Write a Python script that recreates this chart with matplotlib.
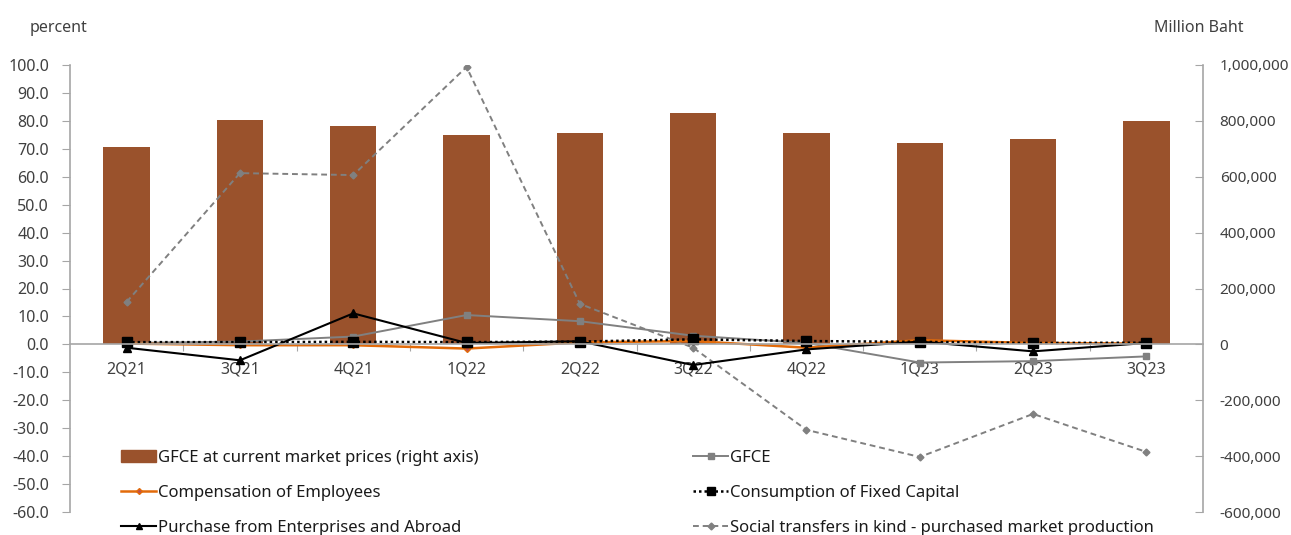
import matplotlib
matplotlib.use("Agg")
import matplotlib.pyplot as plt
from matplotlib.lines import Line2D
from matplotlib.patches import Patch
import numpy as np

plt.rcParams['font.family'] = ['Noto Sans', 'DejaVu Sans']

quarters = ["2Q21", "3Q21", "4Q21", "1Q22", "2Q22", "3Q22", "4Q22", "1Q23", "2Q23", "3Q23"]

# GFCE at current market prices, million baht (right axis)
gfce_level = [706000, 803000, 782000, 750000, 757000, 828000, 757000, 721000, 735000, 800000]

# growth rates, percent (left axis)
gfce = [0.5, 1.0, 2.8, 10.5, 8.3, 3.1, 0.5, -6.5, -6.0, -4.3]
compensation = [0.3, -0.3, -0.3, -1.5, 0.7, 1.2, -1.2, 1.5, 0.5, 0.3]
fixed_capital = [0.8, 0.8, 0.9, 0.8, 1.0, 1.8, 1.2, 0.9, 0.5, 0.6]
purchase = [-1.2, -5.7, 11.1, 0.5, 1.1, -7.4, -1.8, 1.0, -2.5, 0.5]
social_transfers = [15.2, 61.3, 60.6, 99.3, 14.5, -1.2, -30.6, -40.3, -24.9, -38.5]

left_ticks = np.arange(-60, 101, 10)
right_ticks = np.arange(-600000, 1000001, 200000)

BAR = "#9A522C"
ORANGE = "#E26B0A"
GRAY = "#808080"
AXIS = "#A6A6A6"
TXT = "#404040"

fig = plt.figure(figsize=(12.91, 5.35), dpi=100)
ax = fig.add_axes([70/1291, 23/535, 1133/1291, 447/535])
ax2 = ax.twinx()

x = np.arange(len(quarters))

ax2.bar(x, gfce_level, width=0.41, color=BAR, zorder=2)
ax2.set_ylim(-600000, 1000000)
ax2.set_yticks(right_ticks)
ax2.set_yticklabels([f"{v:,.0f}" for v in right_ticks])

ax.set_zorder(ax2.get_zorder() + 1)
ax.patch.set_visible(False)

ax.plot(x, social_transfers, color=GRAY, ls=(0, (3, 2)), lw=1.4, marker="D", ms=3.5, mfc=GRAY, mec=GRAY)
ax.plot(x, gfce, color=GRAY, lw=1.4, marker="s", ms=5, mfc=GRAY, mec=GRAY)
ax.plot(x, compensation, color=ORANGE, lw=1.8, marker="D", ms=3, mfc="#C0504D", mec=ORANGE)
ax.plot(x, fixed_capital, color="black", ls=(0, (1, 1.2)), lw=1.8, marker="s", ms=6.5, mfc="black", mec="black")
ax.plot(x, purchase, color="black", lw=1.5, marker="^", ms=5.5, mfc="black", mec="black")

ax.set_xlim(-0.5, len(quarters) - 0.5)
ax.set_ylim(-60, 100)
ax.set_yticks(left_ticks)
ax.set_yticklabels([f"{v:.1f}" for v in left_ticks])

# category boundaries as tick marks, labels centred on categories
ax.set_xticks(np.arange(0.5, len(quarters) - 0.5, 1))
ax.set_xticklabels([])
ax.set_xticks(x, minor=True)
ax.set_xticklabels(quarters, minor=True)
ax.tick_params(axis="x", which="major", direction="out", length=5, color=AXIS)
ax.tick_params(axis="x", which="minor", length=0, pad=12, labelsize=11.5, labelcolor=TXT)
ax.spines["bottom"].set_position(("data", 0))

for a in (ax, ax2):
    a.spines["top"].set_visible(False)
    for s in ("left", "right", "bottom"):
        a.spines[s].set_color(AXIS)
        a.spines[s].set_linewidth(1.2)
ax.spines["right"].set_visible(False)
ax2.spines["left"].set_visible(False)
ax2.spines["bottom"].set_visible(False)

ax.tick_params(axis="y", direction="out", length=6, color=AXIS, labelsize=11.5, labelcolor=TXT, pad=9)
ax2.tick_params(axis="y", direction="in", length=6, color=AXIS, labelsize=11, labelcolor=TXT, pad=12)

fig.text(30/1291, 1 - 28/535, "percent", fontsize=11.5, color=TXT, va="center", ha="left")
fig.text(1244/1291, 1 - 28/535, "Million Baht", fontsize=11.5, color=TXT, va="center", ha="right")

h_bar = Patch(facecolor=BAR, edgecolor=BAR)
h_comp = Line2D([], [], color=ORANGE, lw=1.8, marker="D", ms=3, mfc="#C0504D", mec=ORANGE)
h_purch = Line2D([], [], color="black", lw=1.5, marker="^", ms=5, mfc="black")
h_gfce = Line2D([], [], color=GRAY, lw=1.4, marker="s", ms=4.5, mfc=GRAY, mec=GRAY)
h_cfc = Line2D([], [], color="black", ls=(0, (1, 1.2)), lw=1.8, marker="s", ms=6, mfc="black")
h_soc = Line2D([], [], color=GRAY, ls=(0, (3, 2)), lw=1.4, marker="D", ms=3.5, mfc=GRAY, mec=GRAY)

leg_kw = dict(frameon=False, fontsize=12, labelcolor="#1a1a1a", handlelength=2.1, handletextpad=0.12,
              labelspacing=1.13, borderpad=0, borderaxespad=0, loc="upper left")
leg1 = fig.legend([h_bar, h_comp, h_purch],
                  ["GFCE at current market prices (right axis)", "Compensation of Employees",
                   "Purchase from Enterprises and Abroad"],
                  bbox_to_anchor=(121/1291, 1 - 450/535), **leg_kw)
leg2 = fig.legend([h_gfce, h_cfc, h_soc],
                  ["GFCE", "Consumption of Fixed Capital",
                   "Social transfers in kind - purchased market production"],
                  bbox_to_anchor=(693/1291, 1 - 450/535), **leg_kw)

fig.savefig("out.png", dpi=100)
